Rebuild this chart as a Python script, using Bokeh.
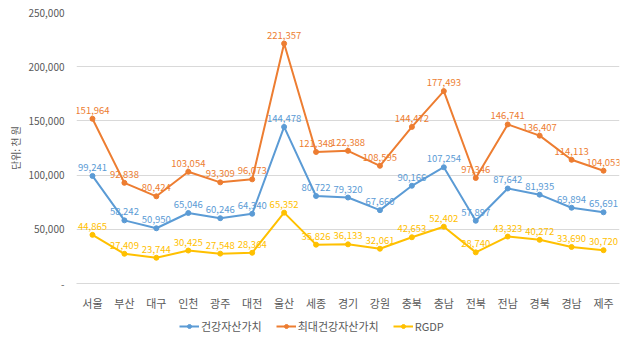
from bokeh.plotting import figure
from bokeh.layouts import column
from bokeh.models import (ColumnDataSource, FactorRange, Legend, LegendItem,
                          NumeralTickFormatter, FixedTicker)
from bokeh.core.properties import value
from bokeh.embed import file_html
from bokeh.resources import INLINE

regions = ["서울", "부산", "대구", "인천", "광주", "대전", "울산", "세종", "경기",
           "강원", "충북", "충남", "전북", "전남", "경북", "경남", "제주"]
health_asset = [99241, 58242, 50950, 65046, 60246, 64340, 144478, 80722, 79320,
                67660, 90166, 107254, 57897, 87642, 81935, 69894, 65691]
max_health_asset = [151964, 92838, 80424, 103054, 93309, 96073, 221357, 121348, 122388,
                    108595, 144472, 177493, 97346, 146741, 136407, 114113, 104053]
rgdp = [44865, 27409, 23744, 30425, 27548, 28364, 65352, 35826, 36133,
        32061, 42653, 52402, 28740, 43323, 40272, 33690, 30720]
series_names = ["건강자산가치", "최대건강자산가치", "RGDP"]
y_ticks = [0, 50000, 100000, 150000, 200000, 250000]
y_label = "단위: 천 원"

colors = ["#5B9BD5", "#ED7D31", "#FFC000"]
FONT = "Noto Sans CJK KR"
GRAY = "#595959"

p = figure(width=640, height=317, x_range=FactorRange(factors=regions),
           y_range=(0, 250000), output_backend="svg", toolbar_location=None,
           min_border_left=76, min_border_right=21, min_border_top=12,
           min_border_bottom=34)
p.outline_line_color = None
p.background_fill_color = "white"
p.border_fill_color = "white"

p.xgrid.grid_line_color = None
p.ygrid.grid_line_color = "#D9D9D9"
p.ygrid.grid_line_width = 1

p.yaxis.ticker = FixedTicker(ticks=y_ticks)
p.yaxis.formatter = NumeralTickFormatter(format="0,0")
p.yaxis.major_label_overrides = {0: "-"}
p.yaxis.axis_line_color = None
p.yaxis.major_tick_line_color = None
p.yaxis.major_tick_out = 0
p.yaxis.major_tick_in = 0
p.yaxis.minor_tick_line_color = None
p.yaxis.major_label_standoff = 12
p.yaxis.major_label_text_font = FONT
p.yaxis.major_label_text_font_size = "10px"
p.yaxis.major_label_text_color = GRAY
p.yaxis.axis_label = y_label
p.yaxis.axis_label_text_font = FONT
p.yaxis.axis_label_text_font_size = "10px"
p.yaxis.axis_label_text_font_style = "normal"
p.yaxis.axis_label_text_color = GRAY
p.yaxis.axis_label_standoff = 2

p.xaxis.axis_line_color = "#D9D9D9"
p.xaxis.major_tick_line_color = None
p.xaxis.major_tick_out = 0
p.xaxis.major_tick_in = 0
p.xaxis.minor_tick_line_color = None
p.xaxis.major_label_standoff = 11
p.xaxis.major_label_text_font = FONT
p.xaxis.major_label_text_font_size = "11px"
p.xaxis.major_label_text_color = GRAY

# legend-only strip below the chart
lf = figure(width=640, height=22, x_range=(0, 1), y_range=(0, 1),
            output_backend="svg", toolbar_location=None,
            min_border_left=0, min_border_right=0, min_border_top=0,
            min_border_bottom=0)
lf.axis.visible = False
lf.grid.visible = False
lf.outline_line_color = None

items = []
for name, vals, c in zip(series_names, [health_asset, max_health_asset, rgdp], colors):
    src = ColumnDataSource(dict(x=regions, y=vals, lab=[f"{v:,}" for v in vals]))
    p.line("x", "y", source=src, line_color=c, line_width=2)
    p.scatter("x", "y", source=src, size=5, fill_color=c, line_color=c)
    p.text("x", "y", text="lab", source=src, text_color=c, text_align="center",
           text_baseline="bottom", y_offset=-5, text_font=value(FONT),
           text_font_size="9.5px")
    # off-screen stand-ins so the legend strip can draw each series' key
    key_src = ColumnDataSource(dict(x=[-5, -6], y=[-5, -6]))
    ln = lf.line("x", "y", source=key_src, line_color=c, line_width=2)
    mk = lf.scatter("x", "y", source=key_src, size=5, fill_color=c, line_color=c)
    items.append(LegendItem(label=name, renderers=[ln, mk]))

legend = Legend(items=items, orientation="horizontal", location=(103, 5),
                label_text_font=FONT, label_text_font_size="11px",
                label_text_color=GRAY, glyph_width=20, glyph_height=10,
                spacing=14, padding=0, margin=0, border_line_color=None,
                background_fill_alpha=0, label_standoff=2)
lf.add_layout(legend, "center")

layout = column(p, lf, spacing=0)
open("out.html", "w").write(file_html(layout, INLINE))
